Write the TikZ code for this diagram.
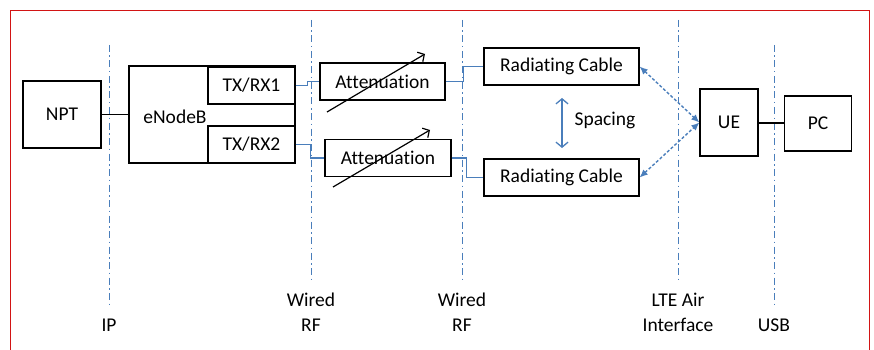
\documentclass[tikz,border=0pt]{standalone}
\usepackage{fontspec}
\setmainfont{Carlito}[Ligatures={NoCommon}]
\usetikzlibrary{arrows.meta}
\definecolor{lblue}{RGB}{74,126,187}
\definecolor{frred}{RGB}{210,20,20}
\begin{document}
\begin{tikzpicture}[x=1pt,y=-1pt,
  box/.style={draw,line width=1.3pt,inner sep=0pt,font=\fontsize{19.5}{22}\selectfont},
  lbl/.style={inner sep=0pt,font=\fontsize{19.5}{25}\selectfont,align=center},
  ifline/.style={draw=lblue,line width=1pt,dash pattern=on 7pt off 3.5pt on 1.5pt off 3.5pt},
  wire/.style={draw=lblue,line width=1.3pt},
  blk/.style={draw=black,line width=1.3pt},
  airlink/.style={draw=lblue,line width=1.4pt,dash pattern=on 3pt off 2pt,{Latex[length=8pt,width=7pt]}-{Latex[length=8pt,width=7pt]}},
  attarrow/.style={draw=black,line width=1.2pt,-{Straight Barb[length=5pt,width=11pt]}}]
\useasboundingbox (0,0) rectangle (874,350);
% frame
\coordinate (f1) at (10.5,352);
\coordinate (f2) at (10.5,10.5);
\coordinate (f3) at (869.5,10.5);
\coordinate (f4) at (869.5,352);
\draw[frred,line width=1.3pt] (f1) -- (f2) -- (f3) -- (f4);
% interface lines
\coordinate (ipT) at (109,45);  \coordinate (ipB) at (109,305);
\coordinate (w1T) at (311,20);  \coordinate (w1B) at (311,280);
\coordinate (w2T) at (462,20);  \coordinate (w2B) at (462,280);
\coordinate (lteT) at (678,20); \coordinate (lteB) at (678,280);
\coordinate (usbT) at (774,45); \coordinate (usbB) at (774,305);
\draw[ifline] (ipT) -- (ipB);
\draw[ifline] (w1T) -- (w1B);
\draw[ifline] (w2T) -- (w2B);
\draw[ifline] (lteT) -- (lteB);
\draw[ifline] (usbT) -- (usbB);
% labels
\node[lbl] (lip) at (109,325) {IP};
\node[lbl] (lw1) at (311,312.5) {Wired\\RF};
\node[lbl] (lw2) at (462,312.5) {Wired\\RF};
\node[lbl] (llte) at (678,312.5) {LTE Air\\Interface};
\node[lbl] (lusb) at (774,325) {USB};
% boxes
\node[box,minimum width=78pt,minimum height=67pt] (npt) at (62,114.5) {NPT};
\node[box,minimum width=166pt,minimum height=97pt] (enb) at (212,114.5) {};
\node[lbl] (enbt) at (175,117) {eNodeB};
\node[box,minimum width=87pt,minimum height=37pt] (tx1) at (251.5,85.5) {TX/RX1};
\node[box,minimum width=87pt,minimum height=37pt] (tx2) at (251.5,144.5) {TX/RX2};
\node[box,minimum width=125pt,minimum height=37pt] (att1) at (382.5,81.5) {Attenuation};
\node[box,minimum width=126pt,minimum height=37pt] (att2) at (388,158) {Attenuation};
\node[box,minimum width=155pt,minimum height=37pt] (rc1) at (561.5,66.5) {Radiating Cable};
\node[box,minimum width=155pt,minimum height=37pt] (rc2) at (561.5,177.5) {Radiating Cable};
\node[box,minimum width=58pt,minimum height=67pt] (ue) at (729,122.5) {UE};
\node[box,minimum width=67pt,minimum height=55pt] (pc) at (818,123.5) {PC};
\node[lbl] (spt) at (605,120) {Spacing};
% connectors
\draw[blk] (npt.east) -- (npt.east -| enb.west);
\draw[blk] (ue.east |- 0,123) -- (pc.west |- 0,123);
\draw[wire] (tx1.east) -- ++(12,0) |- (att1.west);
\draw[wire] (tx2.east) -- ++(15,0) |- (att2.west);
\draw[wire] (att1.east) -- ++(18,0) |- (rc1.west);
\draw[wire] (att2.east) -- ++(15,0) |- (rc2.west);
\draw[airlink] (rc1.east) -- (ue.west);
\draw[airlink] (rc2.east) -- (ue.west);
% spacing arrow
\coordinate (sp1) at (562,98);
\coordinate (sp2) at (562,148);
\draw[draw=lblue,line width=1.3pt,{Straight Barb[length=5pt,width=12pt]}-{Straight Barb[length=5pt,width=12pt]}] (sp1) -- (sp2);
% attenuation arrows
\coordinate (a1s) at (327,112); \coordinate (a1e) at (425,54);
\coordinate (a2s) at (333,187); \coordinate (a2e) at (430,130);
\draw[attarrow] (a1s) -- (a1e);
\draw[attarrow] (a2s) -- (a2e);
\end{tikzpicture}
\end{document}
